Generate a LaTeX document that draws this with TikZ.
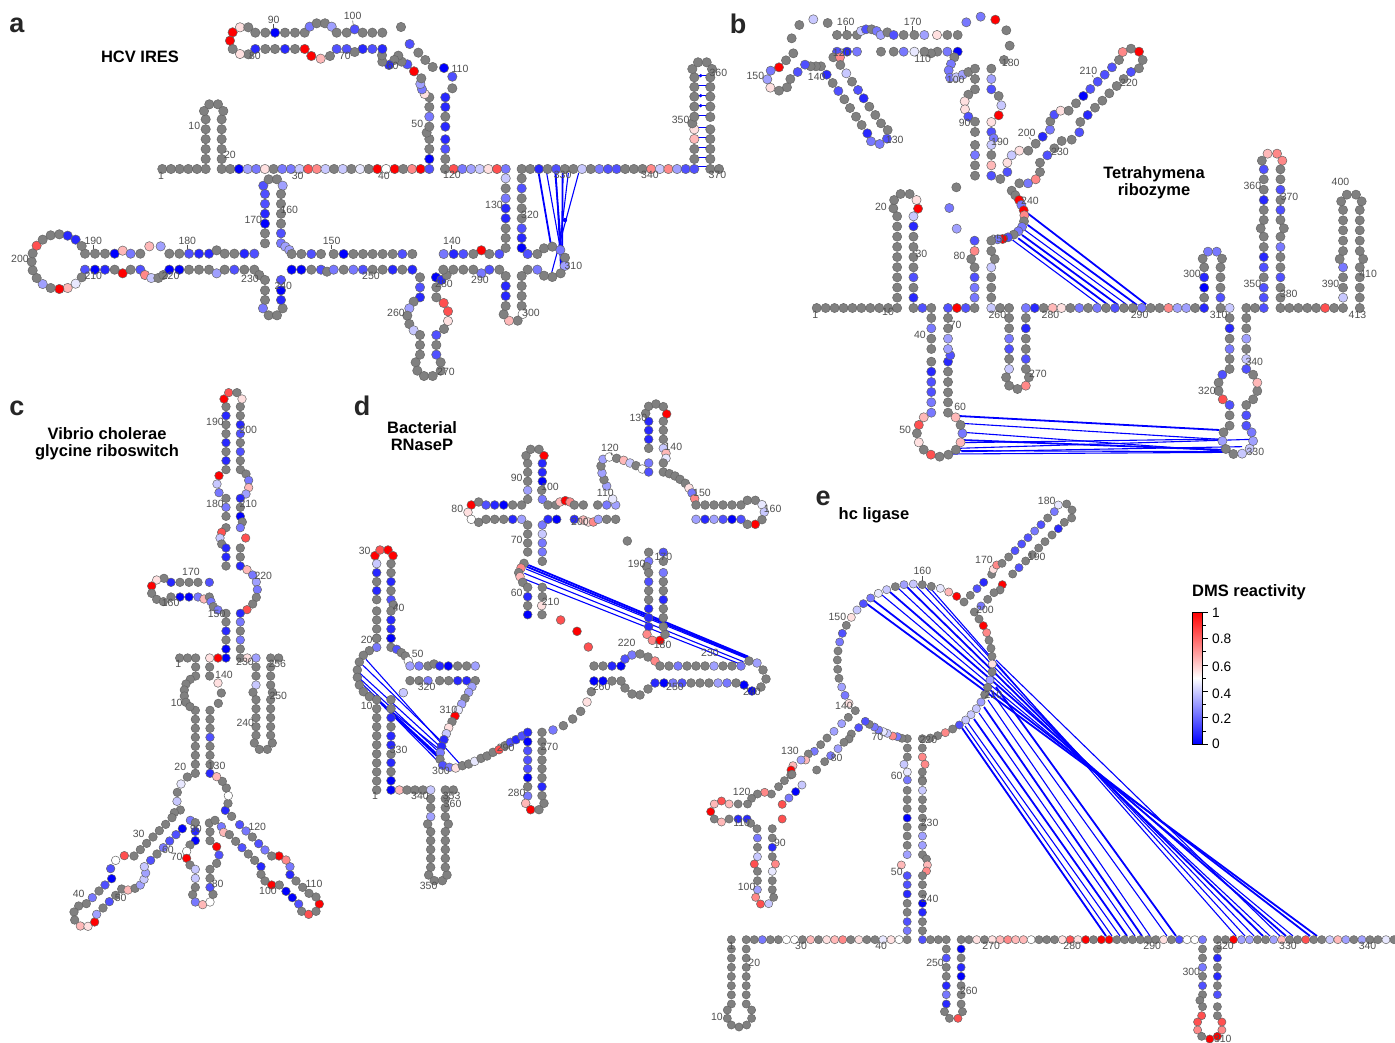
\documentclass[tikz,border=0pt]{standalone}
\usepackage{fontspec}
\setmainfont{Liberation Sans}
\usetikzlibrary{calc}
\definecolor{dmsg}{HTML}{808080}
\definecolor{dmsa}{HTML}{0000FF}
\definecolor{dmsb}{HTML}{2828FF}
\definecolor{dmsc}{HTML}{5050FF}
\definecolor{dmsd}{HTML}{7878FF}
\definecolor{dmse}{HTML}{A0A0FF}
\definecolor{dmsf}{HTML}{C8C8FF}
\definecolor{dmsh}{HTML}{E8E8FF}
\definecolor{dmsw}{HTML}{FFFFFF}
\definecolor{dmsi}{HTML}{FFE0E0}
\definecolor{dmsj}{HTML}{FFB8B8}
\definecolor{dmsk}{HTML}{FF8888}
\definecolor{dmsl}{HTML}{FF5050}
\definecolor{dmsr}{HTML}{FF0000}
\definecolor{dotedge}{HTML}{666666}
\definecolor{numgray}{HTML}{505050}
\tikzset{
  basedot/.style={draw=dotedge, line width=0.5pt},
  knot/.style={blue, line width=1.1pt},
  thickknot/.style={blue, line width=1.8pt},
  numlabel/.style={text=numgray, inner sep=0pt, font=\fontsize{10.5}{10.5}\selectfont},
  numtick/.style={numgray, line width=0.5pt},
  zoomed/.style={x=0.33333pt, y=-0.33333pt},
  panelletter/.style={inner sep=0pt, text=black!85, font=\fontsize{27}{27}\selectfont\bfseries},
  paneltitle/.style={inner sep=0pt, align=center, font=\fontsize{16.5}{17}\selectfont\bfseries},
  barlabel/.style={anchor=west, inner sep=0pt, font=\fontsize{13.7}{14}\selectfont}
}
\newcount\dotcount
\def\dotr{4.4pt}
\makeatletter
\newcommand{\dotrun}[3]{%
  \dotcount=0 \@tfor\dotc:=#3\do{\advance\dotcount by 1 }%
  \pgfmathsetmacro{\runstep}{1/max(\the\dotcount-1,1)}%
  \def\runpos{0}%
  \@tfor\dotc:=#3\do{%
    \draw[basedot, fill=dms\dotc] ($(#1)!\runpos!(#2)$) circle (\dotr);%
    \pgfmathsetmacro{\runpos}{\runpos+\runstep}}}
\makeatother
\newcommand{\dotlist}[1]{%
  \foreach \dotx/\doty/\dotc in {#1} {\draw[basedot, fill=dms\dotc] (\dotx,\doty) circle (\dotr);}}
\newcommand{\numlist}[2]{%
  \foreach \lx/\ly/\lt in {#2} {\node[numlabel, name=#1\lt] at (\lx,\ly) {\lt};}}
\newcommand{\knotlist}[2]{%
  \foreach \kx/\ky/\ku/\kv in {#2} {\draw[#1] (\kx,\ky) -- (\ku,\kv);}}

\begin{document}
\begin{tikzpicture}[x=1pt, y=-1pt]
\path[use as bounding box, fill=white] (0,0) rectangle (1395,1043);

%% Panel a: HCV IRES
\def\dotr{4.7pt}
\begin{scope}[shift={(430,50)}, zoomed]
  \foreach \ky in {76,106,136,166,196,233,262,292,322,350}
    {\draw[knot] (793,\ky) -- (841,\ky);}
  \fill[blue] (812,77) circle (1.8pt) (812,137) circle (1.8pt) (812,167) circle (1.8pt) (405,510) circle (2.2pt);
  \knotlist{thickknot}{326/369/362/580, 376/369/393/590, 398/369/396/650}
  \knotlist{knot}{350/369/390/590, 415/369/386/610, 446/369/365/668, 378/369/392/655}
\end{scope}
\begin{scope}[zoomed]
  \dotrun{487,507}{617,507}{gggggg}
  \dotrun{665,507}{1288,507}{ggaedigddflkfgfghgrwrgkrc}
  \dotrun{617,477}{617,358}{ggggg}
  \dotrun{665,477}{665,358}{ggggg}
  \dotlist{612/333/g,628/313/g,654/313/g,670/333/g,790/557/c,806/538/g,831/538/g,848/557/e}
  \dotlist{1288/477/a,1288/447/g,1288/417/g,1280/398/g,1288/380/g,1288/350/d,1288/321/g,1288/292/g,1274/282/i,1266/268/d,1261/252/e,1264/235/g,1242/214/r,1222/193/c,1205/185/g,1195/167/g,1183/180/g,1167/195/b,1147/185/g,1146/166/g,1147/147/b,1117/147/c,1088/147/b,1064/156/g,1040/147/c,1010/147/c,990/168/g,962/176/j,934/168/r,914/147/r,885/147/g,855/147/b,825/147/g,796/147/g,766/147/b,745/163/g,720/162/i,698/147/g,690/122/r,698/97/r,720/82/i,745/82/g,766/98/g,796/98/g,825/98/a,855/98/g,885/98/g,914/98/g,929/80/d,950/70/g,975/70/g,995/80/e,1010/98/g,1040/98/g,1064/88/c,1088/98/g,1117/98/g,1147/98/g}
  \dotlist{1203/81/g,1229/132/c,1255/158/g,1276/180/g,1298/201/g,1332/204/a,1357/230/c,1357/265/g,1336/292/b,1336/321/b,1336/350/g,1336/380/b,1336/418/b,1336/447/c,1336/477/g}
  \knotlist{numtick}{821/71/821/84,1058/62/1060/76}
  \numlist{a}{821/59/90,1058/49/100,765/167/80,1035/167/70,1178/197/60,1252/371/50,583/379/10,690/466/20,483/527/1,893/527/30,1152/527/40}
\end{scope}
\begin{scope}[shift={(0,190)}, zoomed]
  \dotrun{795,12}{795,101}{ccba}
  \dotrun{795,130}{795,160}{gg}
  \dotrun{843,12}{843,101}{gggg}
  \dotlist{843/130/c,843/160/d,856/170/e,868/180/e,875/192/g}
  \dotlist{255/191/g,285/191/g,315/191/g,344/191/a,368/182/j,392/191/d,421/191/g,448/169/j,482/169/e,508/191/g,538/191/g,567/191/c,597/191/b,627/191/b,650/181/g,674/191/g,703/191/g,733/191/b,763/191/c}
  \dotlist{904/192/g,934/192/c,963/192/g,1001/192/g,1031/192/a,1060/192/g,1089/192/g,1118/192/g,1148/192/g,1178/192/g,1207/192/c,1237/192/g}
  \dotlist{255/239/c,285/239/a,315/239/b,344/239/g,368/250/r,392/239/g,421/239/c,435/255/k,454/264/f,475/264/g,490/255/g,508/239/a,538/239/a,567/239/g,597/239/g,627/239/g,650/250/e,674/239/g,703/239/c,733/239/g,763/239/g,778/255/g,795/270/g,795/301/g,795/330/g,789/355/d,806/376/g,831/376/g,848/355/g,843/330/b,843/301/a,843/270/c}
  \dotlist{875/239/a,904/239/a,934/239/g,963/239/c,981/245/g,1001/239/d,1031/239/g,1060/239/d,1089/239/c,1118/239/g,1148/239/g,1178/239/b,1207/239/g,1237/239/b,1260/262/g,1260/292/c,1260/322/b,1241/335/g,1228/355/e,1222/377/g,1228/402/g,1241/421/f,1260/435/g,1260/465/g,1260/494/g,1247/517/g,1252/542/g,1272/558/g,1298/558/g,1322/542/g,1322/517/g,1309/494/c,1309/465/g,1309/435/c,1332/417/g,1344/393/i,1344/364/l,1331/339/l,1309/322/g,1309/292/g,1308/262/a,1324/270/b,1340/255/g,1330/239/g,1360/239/g}
  \dotlist{245/262/g,227/281/h,203/294/j,178/297/r,152/294/g,128/282/e,110/264/g,98/241/g,95/215/g,98/190/g,110/167/l,128/149/g,152/136/g,178/133/g,203/137/b,227/149/b,245/168/g}
  \knotlist{numtick}{280/165/280/178,562/165/562/178,995/165/995/178,1355/165/1355/178}
  \numlist{a}{280/152/190,562/152/180,995/152/150,60/206/200,280/259/210,512/259/220,750/268/230,850/288/240,1113/259/250,1188/368/260,1332/283/280,1338/547/270,760/91/170,868/61/160}
\end{scope}
\begin{scope}[shift={(430,50)}, zoomed]
  \dotrun{45,357}{227,357}{gldefild}
  \dotrun{275,357}{793,357}{ggbgcggfgdccgggkfkecc}
  \dotrun{841,357}{867,357}{gg}
  \dotlist{227/385/f,227/415/g,227/445/d,227/475/b,227/505/b,227/535/g,227/564/g,227/594/g,208/612/c,178/612/g,154/601/r,130/612/g,100/612/c,71/612/b,41/612/d}
  \dotlist{275/385/g,275/415/c,275/445/g,275/475/g,275/505/g,275/535/c,275/564/b,275/594/a,293/612/c,322/612/g,342/595/g,367/590/g,391/600/d,405/623/g,404/648/e,392/670/g,367/681/g,342/677/g,322/659/d,293/659/g,275/678/g,275/708/g,275/738/g,275/768/g,278/792/w,263/812/g,237/812/j,221/793/g,227/768/g,227/738/b,227/708/b,227/678/g,208/659/g,178/659/c,154/670/d,130/659/g,100/659/g}
  \dotlist{793/327/g,793/297/g,793/267/j,793/238/i,787/220/g,793/200/g,793/170/g,793/140/g,793/111/g,793/82/g,787/57/g,804/37/g,830/37/g,846/57/g,841/82/g,841/111/g,841/140/g,841/170/g,841/201/g,841/238/g,841/267/g,841/297/g,841/327/g}
  \numlist{a}{90/58/110,66/376/120,192/465/130,66/572/140,398/376/330,300/494/320,430/647/310,303/789/300,150/689/290,660/376/340,862/376/370,752/209/350,865/68/360}
\end{scope}
\node[panelletter] (panela) at (17,25) {a};
\node[paneltitle] (titlea) at (140,57) {HCV IRES};

%% Panel b: Tetrahymena ribozyme
\def\dotr{4.6pt}
\begin{scope}[shift={(800,140)}, x=0.3795pt, y=-0.33333pt]
  \knotlist{thickknot}{600/220/912/493,600/255/888/495,575/295/812/495,585/285/838/495,418/828/1105/870,425/900/1125/930}
  \knotlist{knot}{592/270/862/495,560/300/790/495,425/850/1105/898,430/877/1110/933,425/908/1113/897,415/925/1190/898,412/932/1130/935,395/942/1140/937,425/935/1165/920}
\end{scope}
\begin{scope}[shift={(730,0)}, zoomed]
  \dotlist{321/105/g,351/105/g,381/105/g,393/93/f,408/88/c,425/88/g,440/93/d,452/105/e,472/97/g,491/105/c,521/105/g,553/105/g,583/105/e,621/105/i,652/105/g,683/105/g,709/67/d,752/50/d,796/59/r,829/91/g,839/137/g,822/180/g}
  \dotlist{784/206/g,784/237/e,784/268/c,806/288/g,814/316/f,806/346/r,784/366/i,784/396/c,791/415/d,784/435/f,784/465/g,784/496/j,784/527/c,811/537/g,832/516/c,832/488/i,845/466/f,868/452/i,895/452/g,917/431/g,938/410/b,960/389/d,961/364/g,973/344/c,992/332/i,1016/332/g,1038/310/g,1060/288/a,1081/267/c,1103/245/c,1124/224/c,1146/202/c,1167/180/g,1178/156/k,1203/146/g,1227/155/r,1238/180/g,1227/205/g,1203/216/c,1181/237/g,1160/258/g,1138/280/g,1117/302/g,1095/323/g,1073/345/b,1051/366/g,1048/397/c,1025/419/g,995/423/g,973/445/g,952/466/c,930/488/g,930/516/g,917/538/k,894/550/d,868/550/g,845/572/g,856/586/g,867/600/r,874/615/d,881/631/r,883/646/k,882/664/g,876/681/d,865/694/d,851/704/g,834/712/c,818/717/r,803/718/d}
  \dotlist{683/155/a,652/155/d,622/155/g,603/160/g,583/155/g,553/155/h,521/155/d,491/155/g,453/155/g,381/155/d,351/155/b,321/155/c,310/172/g,330/172/k,331/195/g,349/220/f,366/245/g,384/270/c,401/295/b,418/320/g,436/345/g,453/370/g,473/390/g,471/416/c,449/432/d,423/424/d,412/400/b,395/375/g,378/350/g,360/324/g,343/298/g,325/273/c,308/249/g,290/224/b,273/199/g,258/199/g,242/199/g,225/194/c,203/216/c,181/237/g,171/262/g,147/272/g,121/263/i,112/238/e,122/212/d,147/202/r,168/181/g,190/160/g,185/115/g,208/75/g,250/58/f,293/69/g}
  \dotlist{673/172/g,663/192/d,656/211/d,660/233/d,679/232/f,698/224/e,715/216/g,735/206/g,735/237/g,735/268/g,715/284/g,704/304/i,705/328/i,715/350/c,735/365/g,735/396/g,735/435/g,735/465/d,735/496/g,735/527/g,679/562/g,658/624/d,680/686/e}
  \knotlist{numtick}{347/78/347/92,548/78/548/92,1086/226/1090/232,897/412/902/418}
  \numlist{b}{347/65/160,548/65/170,335/158/120,578/176/110,260/231/140,76/228/150,677/241/100,704/368/90,842/188/180,810/425/190,494/421/130,890/400/200,1075/214/210,1197/248/220,990/456/230,900/602/240,808/718/250}
\end{scope}
\begin{scope}[shift={(800,140)}, x=0.3795pt, y=-0.33333pt]
  \dotrun{44,504}{256,504}{gggggggggg}
  \dotrun{299,504}{346,504}{gcg}
  \dotrun{390,504}{460,504}{crcg}
  \dotrun{504,504}{551,504}{fgg}
  \dotrun{595,504}{1065,504}{dbgjigdgdgcggdggkeegb}
  \dotrun{1108,504}{1132,504}{gf}
  \dotrun{1176,504}{1222,504}{ggc}
  \dotrun{1266,504}{1431,504}{ggggglgg}
  \dotrun{1475,504}{1475,504}{g}
  \dotrun{256,473}{256,229}{ggggggggg}
  \dotlist{246/205/g,248/180/g,265/162/g,289/162/g,307/180/i,311/206/r,299/229/f,299/259/b,299/290/g,299/321/g,299/351/g,299/382/g,299/412/c,299/443/g,299/473/b}
  \dotlist{346/534/g,346/565/d,346/596/g,346/627/g,346/665/g,346/695/b,346/726/c,346/756/c,346/787/d,346/818/d,326/832/j,313/855/l,308/880/g,313/907/i,326/929/g,345/944/l,368/950/g,391/944/g,411/929/g,423/907/j,428/880/d,423/855/g,410/832/j,390/818/g,390/787/g,390/757/g,390/726/g,390/695/g,390/665/b,396/646/c,390/627/e,390/596/e,390/565/g,390/534/g}
  \dotlist{460/473/d,460/443/d,460/412/c,460/382/g,451/357/g,460/333/k,460/302/c,504/473/g,504/443/g,504/412/g,504/382/f,513/357/g,504/333/g,504/302/g}
  \dotlist{551/534/g,551/565/g,551/596/d,551/627/c,551/657/g,551/687/f,543/712/g,551/737/g,573/747/g,595/737/k,603/712/g,595/687/g,595/657/c,595/627/g,595/596/g,595/565/b,595/534/g}
  \dotlist{1065/473/g,1065/443/a,1065/412/b,1065/382/g,1061/356/g,1075/335/d,1098/335/d,1112/356/g,1108/382/g,1108/412/g,1108/443/g,1108/473/c}
  \dotlist{1132/534/g,1132/565/b,1132/596/g,1132/627/d,1132/657/g,1132/687/g,1113/704/c,1103/728/g,1103/753/g,1114/778/l,1132/795/c,1132/826/g,1132/857/g,1116/877/g,1113/903/e,1122/927/g,1142/942/g,1165/941/f,1185/926/f,1194/903/e,1190/877/d,1176/857/c,1176/826/c,1176/795/g,1194/778/g,1205/753/g,1205/728/j,1194/704/g,1176/687/c,1176/657/f,1176/627/g,1176/596/e,1176/565/g,1176/534/g}
  \dotlist{1222/473/c,1222/443/c,1222/412/g,1222/382/c,1222/351/b,1222/321/g,1222/290/g,1214/265/g,1222/240/g,1222/210/g,1222/180/b,1222/149/g,1222/118/g,1222/88/c,1217/62/g,1232/41/j,1257/41/k,1271/62/k,1266/88/g,1266/118/g,1266/149/c,1266/180/g,1266/210/c,1266/240/g,1275/265/g,1266/290/g,1266/321/d,1266/351/g,1266/382/g,1266/412/c,1266/443/g,1266/473/g}
  \dotlist{1431/473/f,1431/443/g,1431/412/g,1431/382/d,1422/357/g,1431/333/g,1431/302/g,1431/271/g,1431/241/g,1431/210/g,1426/184/g,1441/164/g,1465/164/g,1480/184/g,1475/210/g,1475/241/g,1475/271/g,1475/302/g,1475/333/g,1484/357/g,1475/382/g,1475/412/g,1475/443/g,1475/473/g}
  \numlist{b}{40/524/1,232/516/10,213/201/20,320/341/30,316/586/40,277/870/50,422/800/60,410/554/70,420/347/80,520/524/260,660/524/280,895/524/290,1033/402/300,1103/524/310,1072/752/320,1200/937/330,1197/667/340,1192/433/350,1192/139/360,1290/170/370,1288/463/380,1398/433/390,1424/125/400,1497/402/410,1469/524/413,627/703/270}
\end{scope}
\node[panelletter] (panelb) at (738,24) {b};
\node[paneltitle] (titleb) at (1154,183) {Tetrahymena\\ribozyme};

%% Panel c: glycine riboswitch
\def\dotr{4.3pt}
\begin{scope}[shift={(0,380)}, zoomed]
  \dotrun{678,80}{678,269}{gbggbgbg}
  \dotrun{721,80}{721,269}{ggbcgcgg}
  \dotlist{672/57/r,686/38/l,711/38/g,726/57/i,738/282/g,746/301/d,746/323/j,738/342/e,721/355/b,721/382/g,721/409/a,727/426/g,721/443/d,737/474/l,721/504/g,721/531/g,721/558/b,741/569/j,758/585/d,769/606/e,772/629/d,769/652/g,758/672/g,741/689/l,721/700/b,721/726/d,721/753/g,721/780/d,721/807/g,721/834/g,742/834/i,768/834/e}
  \dotlist{657/287/r,651/312/f,657/338/d,678/355/g,678/382/d,678/409/g,678/443/g,665/457/l,660/474/f,665/492/g,678/504/b,678/531/b,678/558/g}
  \dotlist{628/607/c,594/607/g,567/607/g,540/607/g,513/607/b,492/595/g,470/600/i,455/618/r,455/640/g,470/658/g,490/665/g,513/651/g,540/651/a,567/651/a,594/651/d,612/657/j,628/651/g,633/665/d,640/680/g,654/690/d,678/700/g,678/726/g,678/753/b,678/780/g,678/807/a,678/834/a,654/834/r,629/834/i}
  \dotlist{539/834/g,563/834/g,587/834/g,812/834/g,836/834/g,587/861/g,587/888/g,629/861/g,629/888/g,768/861/g,768/888/g,812/861/g,812/888/g}
  \numlist{c}{645/125/190,745/151/200,645/372/180,745/372/210,573/577/170,790/588/220,512/668/160,650/703/150,735/845/230,832/851/256,535/851/1,672/884/140}
\end{scope}
\begin{scope}[shift={(50,670)}, zoomed]
  \dotrun{436,121}{436,310}{gggggggg}
  \dotrun{480,121}{480,310}{gggcgggb}
  \dotlist{421/28/g,408/42/g,403/60/g,403/78/g,408/97/g,420/110/g,504/39/i,514/69/g,505/100/g}
  \dotlist{412/321/g,393/342/h,382/367/g,381/394/f,391/420/g,373/428/g,366/443/g,347/463/g,328/482/g,309/501/g,290/520/g,271/539/g,252/558/g,223/557/l,197/571/w,182/596/c,185/626/a,165/645/c,147/663/g,127/683/d,109/701/g,86/708/g,72/726/g,74/750/g,91/768/j,114/769/i,134/756/r,140/733/e,159/714/g,178/695/c,197/676/g,215/657/g,234/660/j,255/655/g,271/645/e,282/628/f,287/609/e,283/590/f,302/571/c,321/552/g,340/533/d,359/513/c,378/494/c,397/476/a,421/451/d}
  \dotlist{436/458/g,436/484/b,436/512/a,420/525/g,410/544/w,410/565/r,420/585/g,436/598/f,436/625/f,436/652/g,428/674/g,436/696/d,458/704/j,480/696/w,489/673/g,480/652/c,480/625/g,480/598/g,500/580/g,507/555/c,500/530/r,480/512/g,480/485/g,478/459/g,495/451/g}
  \dotlist{514/470/d,521/487/j,538/494/g,557/514/g,576/533/c,595/552/g,614/571/g,633/590/b,633/613/g,645/633/g,665/645/r,688/645/g,708/664/a,727/683/a,746/702/c,755/724/g,776/733/l,798/724/g,808/702/r,798/681/g,777/670/g,758/652/g,738/633/g,720/614/b,720/590/d,708/570/k,687/558/r,665/558/g,645/540/d,626/521/c,607/501/g,588/483/d,569/464/c,545/439/g,526/421/b,534/400/g,535/377/w,529/354/g,517/334/g,500/320/j}
  \dotlist{618/45/f,609/67/g,618/89/g,618/116/g,618/143/g,618/170/g,618/196/g,613/219/g,628/238/g,652/238/g,667/219/g,662/196/g,662/170/g,662/143/g,662/116/g,662/89/g,667/67/g,662/45/g}
  \numlist{c}{685/78/250,380/100/10,586/160/240,391/291/20,500/287/130,266/492/30,622/472/120,438/477/90,354/541/60,380/562/70,86/671/40,212/685/50,503/642/80,654/662/100,792/642/110}
\end{scope}
\node[panelletter] (panelc) at (17,408) {c};
\node[paneltitle] (titlec) at (107,444) {Vibrio cholerae\\glycine riboswitch};

%% Panel d: Bacterial RNaseP
\def\dotr{4.4pt}
\begin{scope}[shift={(340,390)}, zoomed]
  \knotlist{thickknot}{565/525/1225/800,560/530/1222/803}
  \knotlist{knot}{558/537/1220/805,553/550/1210/815,548/565/1195/820}
\end{scope}
\begin{scope}[shift={(340,630)}, zoomed]
  \knotlist{knot}{78/88/358/400,68/105/300/330,60/130/295/345,62/148/290/360,70/165/290/375,120/218/295/395,150/240/300/360}
  \knotlist{thickknot}{118/215/305/385,125/222/290/378}
\end{scope}
\begin{scope}[shift={(340,390)}, zoomed]
  \dotlist{394/345/r,416/336/g,438/345/c,464/345/b,491/345/a,518/345/g,545/345/g,563/328/g,563/301/e,563/274/g,563/247/g,563/220/g,558/197/g,572/178/g,597/178/g,612/197/r,607/220/b,607/247/b,607/274/a,605/301/g,607/328/d,624/345/g,648/345/g,660/336/j,676/332/r,690/336/k,703/345/g,730/345/g}
  \dotlist{384/367/i,394/388/w,416/397/g,438/388/g,464/388/g,491/388/g,518/388/b,545/388/e,563/405/g,563/432/g,563/459/g,563/486/g,552/520/g,543/534/k,536/548/g,540/560/j,548/577/g,563/592/g,563/620/b,563/647/g,563/674/a}
  \dotlist{607/405/d,607/432/f,607/459/d,607/486/d,607/514/g,607/592/g,607/620/g,605/647/i,606/674/g}
  \dotlist{624/388/b,650/388/a,703/388/b,730/390/j,745/396/i,760/396/k,775/388/e,800/388/g,827/388/g}
  \dotlist{773/345/g,800/345/d,827/345/e,818/327/h,800/288/e,792/269/g,786/249/e,783/228/g,789/208/e,808/201/w,830/205/g,851/211/j,870/219/f,888/227/g,907/237/w,926/246/c,926/219/d,926/175/g,926/148/b,926/121/b,926/94/b,917/70/g,926/49/g,948/42/g,970/50/g,980/72/r,970/94/g,970/121/g,970/148/g,970/175/f,978/190/j,978/205/h,970/219/g,970/246/g,988/251/g,1005/258/g,1020/268/g,1036/280/g,1047/294/i,1056/309/d,1064/326/k}
  \dotrun{1068,345}{1203,345}{gggggg}
  \dotlist{1222/331/g,1246/331/g,1266/344/h,1273/366/f,1266/389/g,1246/403/r,1222/403/g}
  \dotrun{1203,388}{1068,388}{cacebe}
  \dotlist{862/453/g,662/690/l,711/724/r,745/771/l}
  \dotlist{926/487/g,926/514/d,920/530/g,926/548/g,926/575/c,926/602/g,926/629/g,926/656/b,926/683/b,926/710/b,921/733/k,937/751/k,960/751/r,975/733/g,970/710/g,970/683/g,970/656/g,970/629/b,970/602/g,970/575/g,970/548/d,970/514/g,970/487/c}
  \dotlist{105/497/r,120/480/l,144/480/r,159/497/r,153/521/g,153/548/g,153/575/b,153/602/g,153/629/c,160/645/g,153/663/g,153/690/b,153/717/b,153/745/b,110/521/f,110/548/b,110/575/g,110/602/b,110/629/g,110/663/g,110/690/g,110/717/g,110/745/g}
  \knotlist{numtick}{813/186/815/196}
  \numlist{d}{352/357/80,530/264/90,630/290/100,796/308/110,810/173/120,895/85/130,1000/172/140,1086/308/150,1298/356/160,970/502/170,968/766/180,890/521/190,720/396/200,632/636/210,530/449/70,530/608/60,74/482/30,176/653/40}
\end{scope}
\begin{scope}[shift={(340,630)}, zoomed]
  \dotlist{110/25/g,110/52/d,88/62/g,70/76/g,58/96/g,52/120/g,52/142/g,58/165/g,70/185/g,88/200/g,110/209/g}
  \dotrun{110,236}{110,480}{gggggggggg}
  \dotlist{153/25/a,153/52/g,170/58/c,184/68/g,196/78/g,205/93/w,210/108/e,237/108/d,264/108/g,282/102/g,299/108/b,325/108/a,353/108/g,380/108/g,406/108/e}
  \dotlist{210/152/g,237/152/g,264/152/d,299/152/g,326/152/g,353/152/b,380/152/b,406/152/g,396/170/e,386/187/e,375/205/g,365/222/e,355/240/h,345/258/r,336/275/g,326/293/i,319/311/f,312/329/b,305/349/b,301/368/d,300/388/g,308/406/c,328/412/d,347/414/i,367/407/g,386/402/g,404/394/h,423/385/g,441/378/g,459/367/g,477/359/l,495/347/g,511/337/c,528/329/b,546/318/c,563/307/b}
  \dotlist{563/335/a,563/362/c,563/390/c,563/416/c,563/443/a,563/470/g,563/498/d,557/520/j,572/539/r,597/539/g,612/520/g,606/497/g,606/470/b,606/443/g,606/416/g,606/390/g,606/362/g,606/335/g,606/307/g,639/300/d,670/287/g,698/267/g,722/244/g,741/216/i,754/185/g}
  \dotlist{190/188/f,153/209/g,153/236/g,153/263/b,153/290/g,153/318/b,153/345/b,153/372/g,153/398/b,153/425/g,153/452/a,153/480/a,178/480/j,201/480/g,225/480/g,249/480/g,272/480/f,272/506/g,272/533/g,272/560/e,263/582/g}
  \dotrun{272,605}{272,712}{ggggg}
  \dotlist{266/735/g,283/752/g,307/752/g,321/735/g,325/582/g,316/560/g,316/533/g,316/506/g,316/480/g,340/480/g}
  \dotrun{316,712}{316,605}{ggggg}
  \numlist{d}{80/30/20,233/72/50,260/170/320,325/240/310,80/228/10,176/361/330,303/424/300,497/355/290,628/352/270,530/490/280,785/170/260,860/40/220,240/497/340,335/497/353,338/523/360,266/768/350,105/497/1}
\end{scope}
%% right arm of panel d, at picture coordinates
\dotlist{594/666/g,603/666/g,612/666/b,621/666/a,625/659/c,632/655/d,640/654/g,648/657/g,655/661/k,660/666/g,669/666/g,678/666/d,687/666/g,696/666/g,705/666/g,714/666/e,723/666/g,732/666/g,741/666/d,749/661/g,757/663/e,763/670/g,766/679/g,761/687/g,752/691/a,744/685/a,736/683/g,727/683/d,718/683/e,709/683/g,700/683/g,691/683/g,682/683/c,673/683/d,664/683/a,655/683/b,648/689/g,640/695/g,632/694/g,625/688/g,621/681/g,612/681/g,603/681/a,594/681/a}
\numlist{d}{675/687/250,710/653/230,752/692/240}
\node[panelletter] (paneld) at (362,406) {d};
\node[paneltitle] (titled) at (422,436) {Bacterial\\RNaseP};

%% Panel e: hc ligase
\def\dotr{4.1pt}
\knotlist{thickknot}{962/728/1106/936,974/719/1127/936,984/707/1142/936,996/687/1176/936,867/604/1317/936,873/600/1310/936,890/592/1286/936,907/587/1263/936}
\knotlist{knot}{965/726/1112/936,968/723/1120/936,979/713/1135/936,988/700/1150/936,992/693/1167/936,882/595/1293/936,898/588/1270/936,916/586/1254/936,925/587/1245/936,932/590/1236/936,996/660/1280/936}
\begin{scope}[shift={(780,480)}, zoomed]
  \dotlist{530/349/r,506/336/j,481/325/h,454/319/g,427/314/g,400/312/f,372/314/e,346/320/g,320/329/f,295/340/h,272/354/d,250/371/c,231/390/f,214/412/i,199/436/g,187/460/c,179/486/d,174/513/g,172/540/g,173/568/g,177/595/g,185/621/e,195/646/d,207/670/i,226/692/g,205/712/g,185/731/e,162/754/e,141/774/g,122/794/g,103/814/d,85/822/g,77/840/j,63/840/e,39/857/j,33/870/r,32/885/g}
  \dotlist{552/366/g,571/346/g,591/326/c,611/307/b,635/283/g,640/268/i,650/255/k,666/250/g,686/231/g,705/212/c,725/192/c,744/173/c,764/153/d,783/134/c,803/114/g,823/95/d,835/75/h,860/72/g,876/90/g,875/114/g,853/127/g,835/146/b,816/165/g,795/185/g,776/204/g,757/224/g,737/243/g,717/263/c,698/282/g,667/314/r,660/330/g,642/338/g,623/358/g,603/378/d,583/396/g,597/417/g,610/437/r,620/458/k,627/481/g,633/505/g,636/529/g,637/552/i,636/576/g,630/600/e,623/622/g,614/644/g,603/666/e,589/686/f,573/704/f,557/720/f,538/735/c,518/747/g,496/758/k,473/767/g,451/774/g,427/776/g}
  \dotlist{427/804/g,427/831/k,435/853/k,427/876/g,427/900/g}
  \dotlist{382/776/g,366/775/g,352/770/d,338/768/k,322/760/f,310/755/h,296/750/d,283/741/d,268/733/g,256/724/c,236/743/c,214/762/g,207/777/g,192/787/g,174/806/e,152/827/d,134/845/g,110/870/g}
  \dotlist{382/804/g,382/831/g,372/853/f,382/876/h,382/900/d}
  \knotlist{numtick}{427/288/427/302}
  \numlist{e}{800/62/180,612/241/170,770/232/190,427/274/160,172/412/150,615/390/200,640/645/210,445/780/220,192/678/140,292/770/70,30/812/130,170/833/80,350/888/60}
\end{scope}
\begin{scope}[shift={(690,740)}, x=0.4496pt, y=-0.33333pt]
  \dotlist{483/151/g,483/179/g,483/206/g,483/234/a,483/261/g,483/288/g,483/316/g,483/344/e,470/375/j,483/407/c,483/434/c,483/462/b,483/490/g,483/517/g,483/545/c,483/572/d}
  \dotlist{517/124/g,517/151/f,517/179/g,517/206/g,517/234/g,517/261/g,517/288/e,517/316/e,517/344/g,526/357/g,528/375/j,526/393/k,517/407/g,517/434/g,517/462/g,517/490/a,517/517/b,517/545/g,517/572/g}
  \dotrun{92,599}{92,599}{g}
  \dotrun{125,599}{483,599}{ggdggwwgjgijkgigghiwg}
  \dotrun{517,599}{570,599}{cggg}
  \dotrun{603,599}{1140,599}{ggigijkjjwgggilirgrrggggggigcwwd}
  \dotrun{1173,599}{1566,599}{ggreeggejgglggfjegegghg}
  \dotrun{92,627}{92,792}{ggggggg}
  \dotrun{125,627}{125,792}{ggggggg}
  \dotlist{83/810/g,83/835/g,92/855/g,109/861/g,126/855/g,137/835/g,137/810/g}
  \dotlist{570/627/g,570/654/c,570/682/g,570/709/g,570/737/b,570/764/d,570/792/b,566/815/g,577/835/g,596/835/l,606/815/g,603/792/g,603/764/g,603/737/g,603/709/a,603/682/b,603/654/g,603/627/a}
  \dotlist{1140/627/g,1140/654/g,1140/682/d,1140/709/g,1140/737/c,1140/764/g,1134/781/g,1140/800/g,1138/827/l,1129/846/l,1129/870/k,1138/889/g,1156/897/r,1173/889/r,1183/870/k,1183/846/l,1173/827/g,1173/800/g,1173/764/c,1173/737/g,1173/709/b,1173/682/g,1173/654/b,1173/627/g}
  \dotlist{227/103/g,210/122/g,197/140/g,181/162/g,166/157/k,150/162/g,137/175/g,128/192/g,107/192/g,87/192/j,70/183/l,54/192/j,46/215/r,54/237/g,70/246/j,87/237/g,107/237/b,127/237/b,135/250/g,149/266/g,150/294/d,150/322/g,150/350/f,143/372/l,150/394/g,150/422/g,150/449/e,146/472/k,157/492/l,175/491/f,186/472/g,183/449/g,183/422/g,183/394/h,190/372/k,183/350/g,183/322/b,183/294/g,183/266/g,205/237/l,205/193/l,220/174/d,235/155/a,249/135/f}
  \numlist{e}{115/155/120,115/250/110,200/310/90,126/440/100,60/830/10,460/395/50,533/249/230,533/477/240,92/617/1,143/670/20,247/617/30,425/617/40,545/670/250,620/752/260,670/617/270,850/617/280,1028/617/290,1115/697/300,1190/617/320,1330/617/330,1507/617/340,1185/897/310}
\end{scope}
\node[panelletter] (panele) at (823,498) {e};
\node[paneltitle] (titlee) at (874,515) {hc ligase};

%% Colour bar
\node[paneltitle] (bartitle) at (1249,592) {DMS reactivity};
\shade[bottom color=blue, top color=white] (1192.7,744) rectangle (1202.7,678);
\shade[bottom color=white, top color=red] (1192.7,678) rectangle (1202.7,612);
\draw[line width=0.6pt] (1192.7,612) rectangle (1202.7,744);
\foreach \ty in {612,638.4,664.8,691.2,717.6,744}
  {\draw[line width=0.6pt] (1202.7,\ty) -- (1208,\ty);}
\foreach \ty in {625.2,651.6,678,704.4,730.8}
  {\draw[line width=0.6pt] (1202.7,\ty) -- (1206,\ty);}
\foreach \ty/\tv in {613/1,638.4/0.8,667/0.6,694/0.4,719/0.2,744/0}
  {\node[barlabel, name=bar\tv] at (1212,\ty) {\tv};}
\end{tikzpicture}
\end{document}
